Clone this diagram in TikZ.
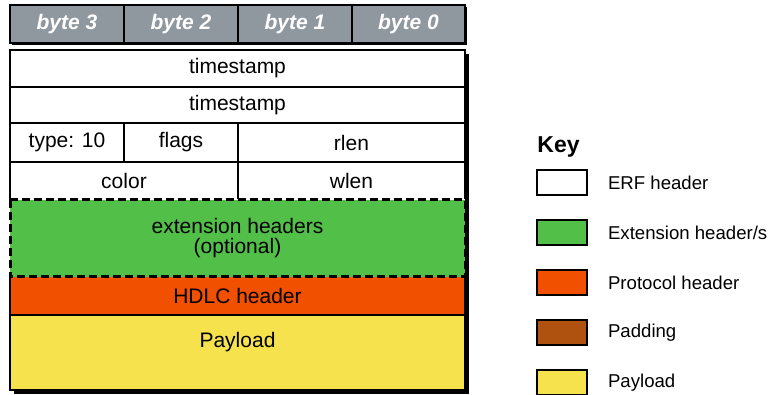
\documentclass[tikz,border=0pt]{standalone}
\usepackage{fontspec}
\setmainfont{Liberation Sans}
\usetikzlibrary{positioning, backgrounds}

\definecolor{bytegray}{HTML}{8F979F}
\definecolor{extgreen}{HTML}{52BF48}
\definecolor{protoorange}{HTML}{F05000}
\definecolor{padbrown}{HTML}{B0520F}
\definecolor{payyellow}{HTML}{F6E24C}

\begin{document}
\begin{tikzpicture}[x=0.5pt, y=-0.5pt, node distance=0pt, every node/.style={font=\fontsize{10.5}{10}\selectfont}]
  \tikzset{
    cell/.style={draw, line width=1pt, fill=white, outer sep=0pt, inner sep=0pt, minimum height=19pt, align=center},
    bytecell/.style={cell, fill=bytegray, text=white, minimum width=57pt, font=\fontsize{10.5}{11}\selectfont\bfseries\itshape},
    keybox/.style={draw, line width=0.9pt, minimum width=25pt, minimum height=12.5pt, inner sep=0pt, outer sep=0pt},
    keytext/.style={font=\fontsize{9.3}{11}\selectfont}
  }
  \useasboundingbox (0,0) rectangle (771,395);

  % byte header row
  \node[bytecell] (b3) at (67,24) {byte 3};
  \node[bytecell, right=of b3] (b2) {byte 2};
  \node[bytecell, right=of b2] (b1) {byte 1};
  \node[bytecell, right=of b1, minimum width=56.5pt] (b0) {byte 0};

  % ERF record
  \node[cell, minimum width=227.5pt, minimum height=18.5pt] (ts1) at (237.5,68.5) {timestamp};
  \node[cell, minimum width=227.5pt, minimum height=18pt, below=of ts1] (ts2) {timestamp};
  \node[cell, minimum width=57pt, minimum height=19.5pt, below right=of ts2.south west] (type) {type: 10};
  \node[cell, minimum width=57pt, minimum height=19.5pt, right=of type] (flags) {flags};
  \node[cell, minimum width=113.5pt, minimum height=19.5pt, right=of flags] (rlen) {rlen};
  \node[cell, minimum width=114pt, below right=of type.south west] (color) {color};
  \node[cell, minimum width=113.5pt, right=of color] (wlen) {wlen};
  \node[cell, draw=none, fill=extgreen, minimum width=227.5pt, minimum height=38.5pt, below right=of color.south west] (ext) {extension headers\\(optional)};
  \node[cell, fill=protoorange, minimum width=227.5pt, below=of ext] (hdlc) {HDLC header};
  \node[cell, fill=payyellow, minimum width=227.5pt, minimum height=37.5pt, text height=8pt, text depth=13pt, below=of hdlc] (payload) {Payload};

  % dashed outline of the extension headers
  \fill[white] ([yshift=0.6pt]ext.north west) rectangle (ext.north east);
  \fill[extgreen] (ext.north west) rectangle ([yshift=-0.6pt]ext.north east);
  \fill[extgreen] ([yshift=0.6pt]ext.south west) rectangle (ext.south east);
  \fill[protoorange] (ext.south west) rectangle ([yshift=-0.6pt]ext.south east);
  \draw[line width=1.5pt, dash pattern=on 4pt off 2pt] (ext.north west) rectangle (ext.south east);

  % drop shadows
  \begin{scope}[on background layer]
    \fill[black] ([shift={(1.2pt,-1.2pt)}]b3.north west) rectangle ([shift={(1.2pt,-1.2pt)}]b0.south east);
    \fill[black] ([shift={(2.2pt,-1.8pt)}]ts1.north west) rectangle ([shift={(2.2pt,-1.8pt)}]payload.south east);
  \end{scope}

  % key
  \node[anchor=west, inner sep=0pt, font=\fontsize{11.5}{13}\selectfont\bfseries] (key) at (537,147) {Key};
  \node[keybox, fill=white] (kerf) at (562,182.5) {};
  \node[keybox, fill=extgreen, below=12.5pt of kerf] (kext) {};
  \node[keybox, fill=protoorange, below=12.5pt of kext] (kproto) {};
  \node[keybox, fill=padbrown, below=12.5pt of kproto] (kpad) {};
  \node[keybox, fill=payyellow, below=12.5pt of kpad] (kpay) {};
  \node[keytext, right=7pt of kerf] (lerf) {ERF header};
  \node[keytext, right=7pt of kext] (lext) {Extension header/s};
  \node[keytext, right=7pt of kproto] (lproto) {Protocol header};
  \node[keytext, right=7pt of kpad] (lpad) {Padding};
  \node[keytext, right=7pt of kpay] (lpay) {Payload};
\end{tikzpicture}
\end{document}
